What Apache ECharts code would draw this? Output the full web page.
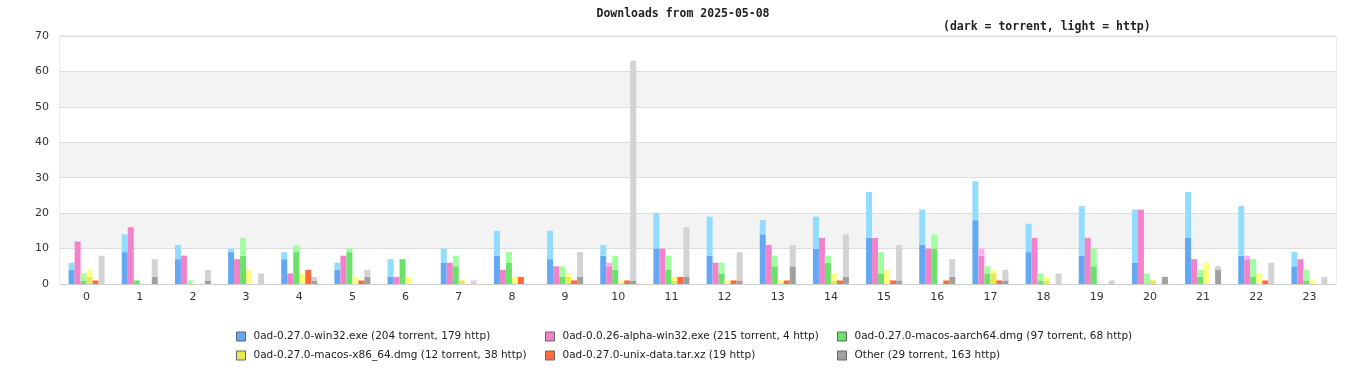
<!DOCTYPE html>
<html>
<head>
<meta charset="utf-8">
<script src="https://cdn.jsdelivr.net/npm/echarts@6/dist/echarts.min.js"></script>
<style>
html,body{margin:0;padding:0;background:#fff;}
#chart{width:1366px;height:380px;}
</style>
</head>
<body>
<div id="chart"></div>
<script>
var hours = ['0','1','2','3','4','5','6','7','8','9','10','11','12','13','14','15','16','17','18','19','20','21','22','23'];
var yTicks = [0,10,20,30,40,50,60,70];

var names = [
  '0ad-0.27.0-win32.exe (204 torrent, 179 http)',
  '0ad-0.0.26-alpha-win32.exe (215 torrent, 4 http)',
  '0ad-0.27.0-macos-aarch64.dmg (97 torrent, 68 http)',
  '0ad-0.27.0-macos-x86_64.dmg (12 torrent, 38 http)',
  '0ad-0.27.0-unix-data.tar.xz (19 http)',
  'Other (29 torrent, 163 http)'
];

var win32Torrent   = [4,9,7,9,7,4,2,6,8,7,8,10,8,14,10,13,11,18,9,8,6,13,8,5];
var win32Http      = [2,5,4,1,2,2,5,4,7,8,3,10,11,4,9,13,10,11,8,14,15,13,14,4];
var alphaTorrent   = [12,16,8,7,3,8,2,6,4,5,5,10,6,11,13,13,10,8,13,13,21,7,7,7];
var alphaHttp      = [0,0,0,0,0,0,0,0,0,0,1,0,0,0,0,0,0,2,0,0,0,0,1,0];
var aarchTorrent   = [1,1,0,8,9,9,7,5,6,2,4,4,3,5,6,3,10,3,1,5,0,2,2,1];
var aarchHttp      = [2,0,1,5,2,1,0,3,3,3,4,4,3,3,2,6,4,2,2,5,3,2,5,3];
var x86Torrent     = [2,0,0,0,0,0,0,1,0,2,0,1,0,0,1,0,0,3,1,0,1,0,0,0];
var x86Http        = [2,0,0,4,3,2,2,0,2,1,1,1,1,1,2,4,0,1,1,0,0,6,3,1];
var unixTorrent    = [0,0,0,0,0,0,0,0,0,0,0,0,0,0,0,0,0,0,0,0,0,0,0,0];
var unixHttp       = [1,0,0,0,4,1,0,0,2,1,1,2,1,1,1,1,1,1,0,0,0,0,1,0];
var otherTorrent   = [0,2,1,0,1,2,0,0,0,2,1,2,1,5,2,1,2,1,0,0,2,4,0,0];
var otherHttp      = [8,5,3,3,1,2,0,1,0,7,62,14,8,6,12,10,5,3,3,1,0,1,6,2];

var darkColors  = ['#62a8f2','#f282cc','#6ae26a','#e8e850','#ff6a40','#a0a0a0'];
var lightColors = ['#92dcff','#ffaaf6','#a0ff9e','#ffff80','#ff6a40','#d3d3d3'];

var torrentSets = [win32Torrent, alphaTorrent, aarchTorrent, x86Torrent, unixTorrent, otherTorrent];
var httpSets    = [win32Http, alphaHttp, aarchHttp, x86Http, unixHttp, otherHttp];

var series = [];
for (var i = 0; i < names.length; i++) {
  series.push({
    name: names[i], type: 'bar', stack: 's' + i,
    data: torrentSets[i], barWidth: 6, barGap: '0%',
    itemStyle: { color: darkColors[i] }, silent: true
  });
  series.push({
    name: 'http' + i, type: 'bar', stack: 's' + i,
    data: httpSets[i], barWidth: 6, barGap: '0%',
    itemStyle: { color: lightColors[i] }, silent: true
  });
}

function legendFor(idx, left) {
  return {
    orient: 'vertical', left: left, top: 331, itemGap: 8, padding: 0,
    itemWidth: 9, itemHeight: 9, icon: 'rect',
    selectedMode: false,
    itemStyle: { borderColor: '#666', borderWidth: 1 },
    textStyle: { fontFamily: 'DejaVu Sans', fontSize: 10.5, color: '#222', padding: [0,0,0,3] },
    data: idx.map(function(k){ return { name: names[k], itemStyle: { color: darkColors[k] } }; })
  };
}

var chart = echarts.init(document.getElementById('chart'), null, { renderer: 'canvas' });
chart.setOption({
  animation: false,
  backgroundColor: '#fff',
  title: [
    { text: 'Downloads from 2025-05-08', left: 'center', top: 3,
      textStyle: { fontFamily: 'DejaVu Sans Mono', fontWeight: 'bold', fontSize: 11.5, color: '#222' } },
    { text: '(dark = torrent, light = http)', left: 938, top: 16,
      textStyle: { fontFamily: 'DejaVu Sans Mono', fontWeight: 'bold', fontSize: 11.5, color: '#222' } }
  ],
  legend: [legendFor([0,3], 236), legendFor([1,4], 545), legendFor([2,5], 837)],
  grid: { left: 60, right: 30, top: 36, bottom: 96, show: true, borderColor: '#ddd', borderWidth: 1, backgroundColor: 'transparent' },
  xAxis: {
    type: 'category', data: hours,
    axisLine: { lineStyle: { color: '#ccc' } },
    axisTick: { show: false },
    axisLabel: { fontFamily: 'DejaVu Sans', fontSize: 11, color: '#333', margin: 8 }
  },
  yAxis: {
    type: 'value', min: yTicks[0], max: yTicks[yTicks.length-1], interval: 10,
    axisLine: { show: false }, axisTick: { show: false },
    axisLabel: { fontFamily: 'DejaVu Sans', fontSize: 11, color: '#333', margin: 11 },
    splitLine: { lineStyle: { color: '#ddd' } },
    splitArea: { show: true, areaStyle: { color: ['#ffffff', '#f3f3f3'] } }
  },
  series: series
});
</script>
</body>
</html>
